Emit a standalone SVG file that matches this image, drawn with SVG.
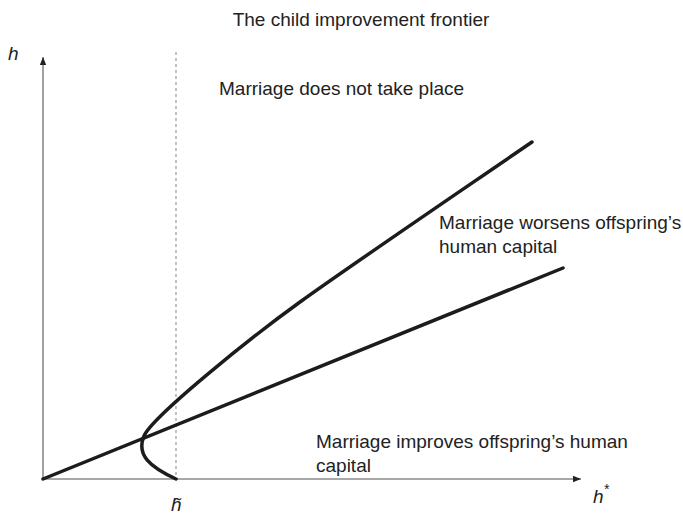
<svg xmlns="http://www.w3.org/2000/svg" width="683" height="514" viewBox="0 0 683 514">
<style>
.t{font-family:"Liberation Sans",Arial,sans-serif;font-size:19px;fill:#222}
.i{font-family:"Liberation Sans",Arial,sans-serif;font-size:19px;font-style:italic;fill:#222}
.ax{stroke:#8a8a8a;stroke-width:1.6;fill:none}
.cv{stroke:#1c1c1c;stroke-width:3.5;fill:none;stroke-linecap:round}
</style>
<defs>
<marker id="ah" viewBox="0 0 10 10" refX="10" refY="5" markerWidth="8" markerHeight="8" markerUnits="userSpaceOnUse" orient="auto">
<path d="M0,1 L10,5 L0,9 z" fill="#222"/>
</marker>
</defs>
<rect width="683" height="514" fill="#fff"/>
<text class="t" x="361" y="26" text-anchor="middle">The child improvement frontier</text>
<g id="axes">
<line class="ax" x1="43" y1="479" x2="43" y2="57" marker-end="url(#ah)"/>
<line class="ax" x1="43" y1="479" x2="581" y2="479" marker-end="url(#ah)"/>
<text class="i" x="8" y="60">h</text>
<text class="i" x="593" y="503">h<tspan font-size="14" dy="-9">*</tspan></text>
<text class="i" x="171" y="511">h̃</text>
</g>
<g id="threshold">
<line x1="176" y1="52" x2="176" y2="479" stroke="#999" stroke-width="1.2" stroke-dasharray="3,3"/>
</g>
<g id="connectors">
<path id="line" class="cv" d="M43,479 L563,268"/>
<path id="curve" class="cv" d="M176,479 C150,467 136,455 144,436 C152,417 250,338 300,302 C350,266 440,205 532,142"/>
</g>
<g id="labels">
<text class="t" x="219" y="95">Marriage does not take place</text>
<text class="t" x="439" y="229">Marriage worsens offspring’s</text>
<text class="t" x="439" y="253">human capital</text>
<text class="t" x="316" y="448">Marriage improves offspring’s human</text>
<text class="t" x="316" y="472">capital</text>
</g>
</svg>
